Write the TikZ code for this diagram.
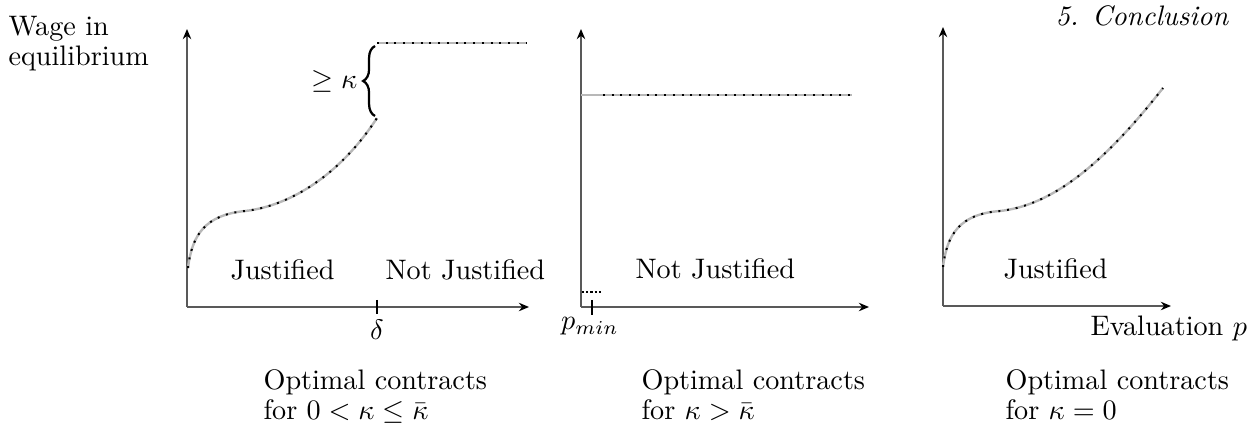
\documentclass[tikz,border=0pt]{standalone}
\usetikzlibrary{arrows.meta,decorations.pathreplacing}
\begin{document}
\begin{tikzpicture}[x=0.3546pt,y=-0.3546pt,
  lbl/.style={inner sep=0pt,anchor=base west,font=\fontsize{10}{12}\selectfont},
  twoline/.style={inner sep=0pt,anchor=base west,align=left,font=\fontsize{10}{10.8}\selectfont},
  axis/.style={draw=black!65,line width=0.55pt,-{Stealth[length=3.6pt,width=3pt,black]}},
  under/.style={draw=black!28,line width=0.85pt},
  dots/.style={draw=black,line width=0.7pt,dash pattern=on 0.7pt off 2.4pt},
  densedots/.style={draw=black,line width=0.65pt,dash pattern=on 0.75pt off 0.75pt},
  tick/.style={draw=black,line width=0.4pt}]
\useasboundingbox (0,0) rectangle (1254,437);

% ---- panel 1 ----
\coordinate (o1) at (187,307);
\draw[axis] (o1) -- (187,29);
\draw[axis] (o1) -- (529,307);
\draw[tick] (377,300) -- (377,314);
\node[inner sep=0pt,anchor=base] (delta) at (377,340) {$\delta$};
\path[under] (188,268) .. controls (192,235) and (205,215) .. (245,211)
   .. controls (290,206) and (340,175) .. (377,118);
\path[dots] (188,268) .. controls (192,235) and (205,215) .. (245,211)
   .. controls (290,206) and (340,175) .. (377,118);
\path[under] (377,43) -- (527,43);
\path[dots] (377,43) -- (527,43);
\draw[line width=0.8pt,decorate,decoration={brace,amplitude=4.2pt}] (375,116) -- (375,46);
\node[inner sep=0pt,anchor=base east] (geq) at (358,89) {$\geq\kappa$};
\node[lbl] (j1) at (230,280) {Justified};
\node[lbl] (nj1) at (385,280) {Not Justified};

% ---- panel 2 ----
\coordinate (o2) at (581,307);
\draw[axis] (o2) -- (581,29);
\draw[axis] (o2) -- (869,307);
\draw[tick] (592,300) -- (592,315);
\node[inner sep=0pt,anchor=base] (pmin) at (590,330) {$p_{min}$};
\path[under] (581,95) -- (852,95);
\path[dots] (603,95) -- (852,95);
\path[densedots] (582,292) -- (603,292);
\node[lbl] (nj2) at (635,279) {Not Justified};

% ---- panel 3 ----
\coordinate (o3) at (943,306);
\draw[axis] (o3) -- (943,27);
\draw[axis] (o3) -- (1171,306);
\path[under] (943,267) .. controls (947,234) and (960,214) .. (1000,211)
   .. controls (1045,206) and (1095,175) .. (1163,88);
\path[dots] (943,267) .. controls (947,234) and (960,214) .. (1000,211)
   .. controls (1045,206) and (1095,175) .. (1163,88);
\node[lbl] (j3) at (1003,279) {Justified};

% ---- labels ----
\node[lbl] (title) at (1055,26) {\itshape 5. Conclusion};
\node[twoline] (wage) at (8,66) {Wage in\\equilibrium};
\node[lbl] (eval) at (1090,336) {Evaluation $p$};
\node[twoline] (c1) at (263,420) {Optimal contracts\\for $0<\kappa\leq\bar{\kappa}$};
\node[twoline] (c2) at (641,420) {Optimal contracts\\for $\kappa>\bar{\kappa}$};
\node[twoline] (c3) at (1005,420) {Optimal contracts\\for $\kappa=0$};
\end{tikzpicture}
\end{document}
